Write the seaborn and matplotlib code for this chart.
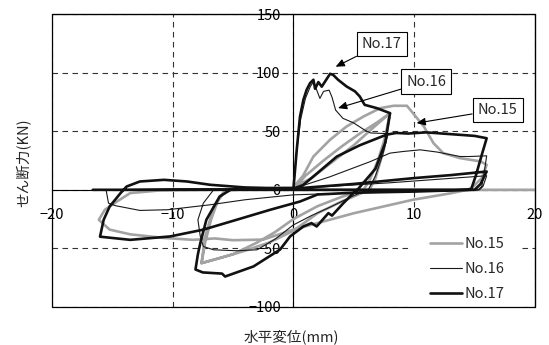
import matplotlib
matplotlib.use("Agg")
import matplotlib.pyplot as plt
from matplotlib.patches import Rectangle
import numpy as np
import pandas as pd
import seaborn as sns

# Load–displacement hysteresis records (horizontal displacement in mm, shear in kN)
x15 = [0, 1, 2.5, 4, 5.5, 7, 8, 7.6, 7, 6.3, 5.8, 4, 2, 0, -1.5, -3, -5, -7.6,
       -7.3, -6.8, -6.2, -5.6, -3, 0, 1.5, 3, 5, 6.5, 8, 7.5, 6.8, 6.3, 4, 2, 0,
       -2, -4, -6, -7.6, -7.3, -6.6, -5.6, -3, 0, 0.8, 1.66, 3.04, 4.4, 5.8, 7.2,
       8.3, 9.4, 9.9, 10.8, 11.6, 12.4, 13.8, 15.5, 16.0, 15.6, 14.8, 14.4, 13,
       9.9, 5, 0, -2.5, -5, -6.5, -8.3, -10.8, -13.5, -15.2, -16.1, -15.6, -14.6,
       -13.5, -11, -8, -4, 0, 5, 10, 15, 20]
y15 = [0, 12, 25, 37, 48, 58, 65.4, 45, 25, 8, 0, -6, -14, -25, -36, -45, -55,
       -62.6, -45, -25, -8, 0, 1, 2, 10, 22, 38, 52, 65.4, 35, 10, 0, -10, -20,
       -35, -45, -52, -58, -62.6, -40, -15, 0, 1, 2, 12, 28.4, 42.7, 54, 62.5,
       69.7, 71.7, 71.7, 65.4, 54, 39.8, 31.3, 27, 24.2, 21.3, 10, 2, 0, -3,
       -8.5, -20, -34, -42.5, -43, -41.5, -42.7, -41, -38, -34, -25.6, -17, -10,
       -2.8, -0.5, 0, 0.5, 0, 0, 0, 0, 0]

x16 = [0, 0.3, 0.6, 1.0, 1.4, 1.65, 1.9, 2.2, 2.5, 2.96, 3.2, 3.5, 4.1, 5, 5.9,
       6.4, 7.6, 7.8, 7.4, 6.8, 6.2, 5, 4, 3, 1.5, 0, -1.5, -3, -4.7, -6.6,
       -7.45, -7.7, -7.9, -7.45, -6.6, -4, 0, 3, 6.35, 8, 9.1, 10.5, 11.9, 13.8,
       14.6, 16, 15.8, 15.6, 15.3, 12, 8, 4, 0, -4, -6.9, -10.4, -12.7, -14.7,
       -15.3, -15.5, -10, -5, 0, 8, 16, 15.7, 15.4, 8, 0]
y16 = [0, 35, 60, 78, 88, 92, 86, 78, 84, 85, 79, 68, 61, 57, 51, 48.5, 48,
       46, 30, 12, 0, -5, -10, -15, -22, -30, -42, -51.2, -52, -51.2, -48.4,
       -39.8, -25.6, -11.4, 0, 0.5, 1, 11, 24, 31.3, 32.7, 34.1, 32.2, 28.4,
       28.4, 29, 15, 3, 0, -1, -2, -3, -4.3, -8.5, -12.8, -17, -17.6, -13.6,
       -11.4, 0, 1, 1, 1, 6, 12, 3, 0, 0, 0]

x17 = [0, 0.28, 0.55, 0.83, 1.1, 1.38, 1.66, 1.8, 2.07, 2.35, 3.04, 3.3, 3.7,
       4.4, 5.1, 5.5, 5.9, 6.9, 8.0, 7.6, 6.8, 5.3, 4.97, 4.14, 3.2, 2.9, 1.93,
       1.5, 0.83, -0.27, -1.1, -3.3, -5.65, -5.9, -7.5, -8.1, -7.9, -7.7, -7.2,
       -6.1, -5.2, -2, 0, 0.8, 1.66, 3.6, 5.5, 7.7, 8.5, 9.5, 11, 13, 15, 16,
       15.6, 15.1, 14.7, 10, 5, 2, 0.55, -1.9, -4.7, -7.45, -10.2, -13.5, -16,
       -15.7, -15.2, -14.3, -13.8, -12.7, -10.7, -8.8, -6.9, -4, 0, 5, 10, 13,
       16, 15.5, 15, 8, 0, -8, -16.6]
y17 = [0, 34, 62.5, 76.8, 85.3, 91, 93.9, 86.2, 91.9, 88, 99, 98, 93.9, 88.2,
       84, 79.6, 72.5, 69.7, 65.4, 40, 18, 0, -2.8, -11.4, -22, -19.9, -31.3,
       -28.4, -31.3, -39.8, -51, -65.4, -74, -71.5, -70.5, -68, -55, -45.5,
       -25.6, -5.7, 0, 0.5, 1, 4, 11.4, 28.4, 38, 47, 48.5, 48, 49, 47.5, 46,
       44, 30, 12, 0, -1.5, -2.5, -4, -10, -17, -25.6, -34, -39.8, -42.7, -40,
       -25.6, -14.2, -2.8, 2.8, 7.1, 8.5, 7.1, 4.3, 2, 1, 5, 10, 12.5, 15.6, 5,
       0, 0, 0, 0, 0]

specimens = ["No.15", "No.16", "No.17"]
line_colors = ["#a3a3a3", "#1a1a1a", "#111111"]
line_widths = [1.9, 0.8, 1.9]

x_ticks = [-20, -10, 0, 10, 20]
y_ticks = [-100, -50, 0, 50, 100, 150]

# Callout labels: (text, arrow tip, box centre) in data units
callouts = [("No.17", (3.5, 105.0), (7.3, 124.6)),
            ("No.16", (3.7, 69.7), (11.0, 92.4)),
            ("No.15", (10.2, 56.9), (16.9, 68.3))]

frames = []
for name, xs, ys in zip(specimens, [x15, x16, x17], [y15, y16, y17]):
    frames.append(pd.DataFrame({"disp": xs, "shear": ys, "specimen": name,
                                "step": np.arange(len(xs))}))
df = pd.concat(frames, ignore_index=True)

sns.set_style("white")
plt.rcParams["font.family"] = ["Noto Sans CJK JP", "DejaVu Sans"]
plt.rcParams["axes.unicode_minus"] = True

fig = plt.figure(figsize=(5.49, 3.45), dpi=100)
L, R, T, B = 51.7, 535.0, 14.0, 307.0
ax = fig.add_axes([L / 549, (345 - B) / 345, (R - L) / 549, (B - T) / 345])

for name, col, lw in zip(specimens, line_colors, line_widths):
    sub = df[df["specimen"] == name]
    sns.lineplot(data=sub, x="disp", y="shear", sort=False, estimator=None,
                 color=col, lw=lw, ax=ax, label=name, zorder=3)

ax.set_xlim(-20, 20)
ax.set_ylim(-100, 150)
ax.set_xticks(x_ticks)
ax.set_yticks(y_ticks)
ax.set_xticklabels([str(v).replace("-", "\u2212") for v in x_ticks])
ax.set_yticklabels([str(v).replace("-", "\u2212") for v in y_ticks])

# dashed grid, centred axes lines through the origin, boxed frame
ax.grid(True, ls=(0, (5, 4)), color="#333333", lw=0.8, zorder=0)
ax.spines["left"].set_position(("data", 0))
ax.spines["bottom"].set_position(("data", 0))
for s in ax.spines.values():
    s.set_color("black")
    s.set_linewidth(0.8)
ax.add_patch(Rectangle((0, 0), 1, 1, transform=ax.transAxes, fill=False,
                       ec="black", lw=0.9, zorder=7, clip_on=False))
ax.tick_params(axis="both", length=0, labelsize=10.5, colors="black")
ax.tick_params(axis="y", pad=9)
ax.tick_params(axis="x", pad=13)

ax.set_xlabel("水平変位(mm)", fontsize=10.5)
ax.set_ylabel("せん断力(KN)", fontsize=10.5)
ax.xaxis.set_label_coords((291.5 - L) / (R - L), (B - 329) / (B - T))
ax.yaxis.set_label_coords((31 - L) / (R - L), (B - 163) / (B - T))

for text, tip, box in callouts:
    ax.annotate(text, xy=tip, xytext=box, ha="center", va="center",
                fontsize=10.5, zorder=6,
                bbox=dict(boxstyle="square,pad=0.35", fc="white", ec="black", lw=0.8),
                arrowprops=dict(arrowstyle="-|>,head_length=0.5,head_width=0.22",
                                color="black", lw=0.8, shrinkA=0, shrinkB=0))

leg = ax.legend(loc="upper left", bbox_to_anchor=((412 - L) / (R - L), (B - 220) / (B - T)),
                frameon=True, fancybox=False, edgecolor="none", facecolor="white",
                framealpha=1, fontsize=10.5, handlelength=2.2, handletextpad=0.2,
                labelspacing=0.73, borderpad=1.2, borderaxespad=0)
leg.set_zorder(5)

fig.savefig("out.png", dpi=100)
